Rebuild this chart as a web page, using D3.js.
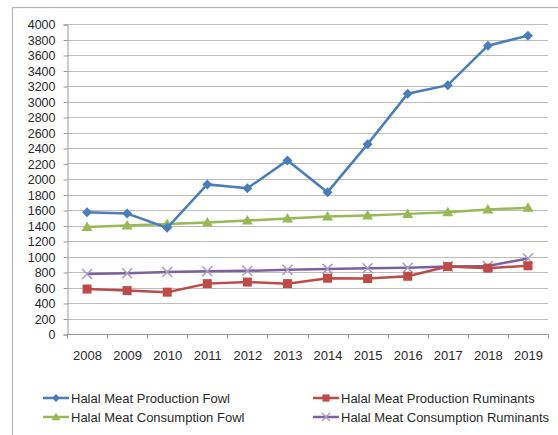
<!DOCTYPE html>
<html>
<head>
<meta charset="utf-8">
<script src="https://cdnjs.cloudflare.com/ajax/libs/d3/7.8.5/d3.min.js"></script>
<style>
  body { margin: 0; background: #fff; }
  text { font-family: "Liberation Sans", Arial, sans-serif; fill: #2a2a2a; }
</style>
</head>
<body>
<div id="chart"></div>
<script>
(function() {
  var years, prodFowl, prodRum, consFowl, consRum, yTicks, series, svg, x, y, plot, line, legend;

  years = ["2008", "2009", "2010", "2011", "2012", "2013", "2014", "2015", "2016", "2017", "2018", "2019"];

  prodFowl = [1570, 1555, 1370, 1930, 1880, 2240, 1830, 2450, 3100, 3210, 3720, 3850];
  prodRum = [580, 560, 540, 650, 670, 650, 720, 715, 745, 870, 850, 880];
  consFowl = [1380, 1400, 1420, 1440, 1465, 1490, 1515, 1530, 1550, 1570, 1605, 1630];
  consRum = [775, 785, 800, 810, 815, 830, 840, 848, 856, 870, 878, 975];

  yTicks = d3.range(0, 4001, 200);

  series = [
    { name: "Halal Meat Production Fowl", values: prodFowl, color: "#4a7ebb", marker: "diamond" },
    { name: "Halal Meat Production Ruminants", values: prodRum, color: "#be4b48", marker: "square" },
    { name: "Halal Meat Consumption Fowl", values: consFowl, color: "#98b954", marker: "triangle" },
    { name: "Halal Meat Consumption Ruminants", values: consRum, color: "#7d60a0", marker: "x" }
  ];

  svg = d3.select("#chart").append("svg").attr("width", 558).attr("height", 435);

  // outer chart frame
  svg.append("rect").attr("x", 12.5).attr("y", 7.5).attr("width", 560).attr("height", 440)
    .style("fill", "none").style("stroke", "#b5b5b5").style("stroke-width", 1.2);

  x = d3.scaleBand().domain(years).range([67, 548]);
  y = d3.scaleLinear().domain([0, 4000]).range([334, 24]);

  plot = svg.append("g");

  // gridlines
  plot.selectAll("line.grid").data(yTicks.slice(1)).enter().append("line")
    .attr("class", "grid")
    .attr("x1", 67).attr("x2", 548)
    .attr("y1", function(d) { return Math.round(y(d)) + 0.5; })
    .attr("y2", function(d) { return Math.round(y(d)) + 0.5; })
    .style("stroke", "#bdbdbd").style("stroke-width", 1);

  // y axis
  var yAxis = plot.append("g").attr("transform", "translate(67.5,0.5)")
    .call(d3.axisLeft(y).tickValues(yTicks).tickSize(4).tickPadding(8).tickFormat(d3.format("d")));
  yAxis.select(".domain").style("stroke", "#999");
  yAxis.selectAll(".tick line").style("stroke", "#999");
  yAxis.selectAll("text").style("font-size", "12.5px").style("fill", "#2a2a2a");

  // x axis
  var xAxis = plot.append("g").attr("transform", "translate(0.5," + (Math.round(y(0)) + 0.5) + ")");
  xAxis.append("line").attr("x1", 67).attr("x2", 548).style("stroke", "#999");
  xAxis.selectAll("line.tk").data(years.concat(["end"])).enter().append("line")
    .attr("class", "tk")
    .attr("x1", function(d, i) { return Math.round(67 + i * x.step()); })
    .attr("x2", function(d, i) { return Math.round(67 + i * x.step()); })
    .attr("y1", 0).attr("y2", 4).style("stroke", "#999");
  xAxis.selectAll("text").data(years).enter().append("text")
    .attr("x", function(d) { return x(d) + x.bandwidth() / 2; })
    .attr("y", 25)
    .attr("text-anchor", "middle")
    .style("font-size", "13px")
    .text(function(d) { return d; });

  line = d3.line()
    .x(function(d, i) { return x(years[i]) + x.bandwidth() / 2; })
    .y(function(d) { return y(d); });

  function drawMarker(g, type, color, cx, cy, r) {
    if (type === "diamond") {
      g.append("path").attr("d", "M" + cx + "," + (cy - r) + "L" + (cx + r) + "," + cy + "L" + cx + "," + (cy + r) + "L" + (cx - r) + "," + cy + "Z")
        .style("fill", color);
    } else if (type === "square") {
      g.append("rect").attr("x", cx - r * 0.9).attr("y", cy - r * 0.9).attr("width", r * 1.8).attr("height", r * 1.8)
        .style("fill", color);
    } else if (type === "triangle") {
      g.append("path").attr("d", "M" + cx + "," + (cy - r * 1.1) + "L" + (cx + r * 1.1) + "," + (cy + r * 0.8) + "L" + (cx - r * 1.1) + "," + (cy + r * 0.8) + "Z")
        .style("fill", color);
    } else {
      g.append("path").attr("d", "M" + (cx - r) + "," + (cy - r) + "L" + (cx + r) + "," + (cy + r) + "M" + (cx + r) + "," + (cy - r) + "L" + (cx - r) + "," + (cy + r))
        .style("stroke", "#a99bc4").style("stroke-width", 1.5).style("fill", "none");
    }
  }

  // draw in an order that keeps the purple line above the red one
  [2, 3, 1, 0].forEach(function(k) {
    var s = series[k];
    var g = plot.append("g");
    g.append("path").datum(s.values).attr("d", line)
      .style("fill", "none").style("stroke", s.color).style("stroke-width", 2.5);
    s.values.forEach(function(v, i) {
      drawMarker(g, s.marker, s.color, x(years[i]) + x.bandwidth() / 2, y(v), 5);
    });
  });

  // legend
  legend = svg.append("g");
  series.forEach(function(s, i) {
    var lx = (i % 2 === 0) ? 43 : 313;
    var ly = (i < 2) ? 398 : 417;
    var g = legend.append("g");
    g.append("line").attr("x1", lx).attr("x2", lx + 26).attr("y1", ly).attr("y2", ly)
      .style("stroke", s.color).style("stroke-width", 2.5);
    drawMarker(g, s.marker, s.color, lx + 13, ly, 4);
    g.append("text").attr("x", lx + 28).attr("y", ly + 4.5)
      .style("font-size", "13px")
      .text(s.name);
  });
}).call(this);
</script>
</body>
</html>
